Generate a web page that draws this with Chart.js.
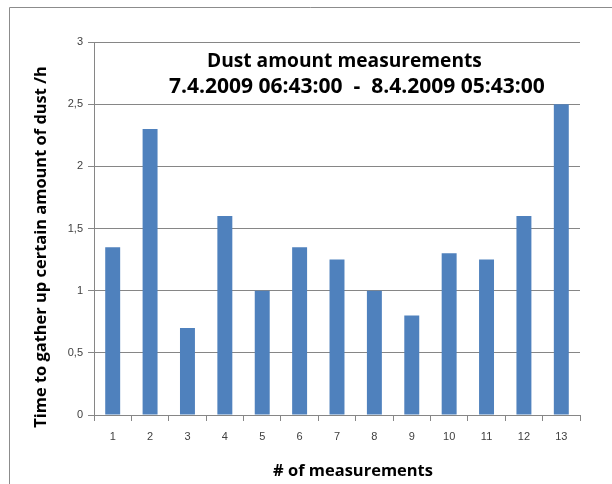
<!DOCTYPE html>
<html>
<head>
<meta charset="utf-8">
<script src="https://cdn.jsdelivr.net/npm/chart.js@4/dist/chart.umd.min.js"></script>
<style>
  html, body { margin: 0; padding: 0; background: #ffffff; }
  canvas { display: block; }
</style>
</head>
<body>
<canvas id="c" width="612" height="484"></canvas>
<script>
const categories = ['1', '2', '3', '4', '5', '6', '7', '8', '9', '10', '11', '12', '13'];
const values = [1.35, 2.3, 0.7, 1.6, 1.0, 1.35, 1.25, 1.0, 0.8, 1.3, 1.25, 1.6, 2.5];
const yTickLabels = ['0', '0,5', '1', '1,5', '2', '2,5', '3'];
const titleLines = ['Dust amount measurements', '7.4.2009 06:43:00  -  8.4.2009 05:43:00'];
const yAxisTitle = 'Time to gather up certain amount of dust /h';
const xAxisTitle = '# of measurements';

const GRAY = '#868686';
const FONT = '"Open Sans", "Liberation Sans", sans-serif';

function fitFont(ctx, text, targetWidth, weight) {
  ctx.font = weight + ' 20px ' + FONT;
  const w = ctx.measureText(text).width;
  const size = 20 * targetWidth / w;
  return weight + ' ' + size.toFixed(2) + 'px ' + FONT;
}

const overlay = {
  id: 'overlay',
  afterDraw(chart) {
    const ctx = chart.ctx;
    ctx.save();
    // outer frame (left and top)
    ctx.strokeStyle = '#8c8c8c';
    ctx.lineWidth = 1;
    ctx.beginPath();
    ctx.moveTo(9.5, 484);
    ctx.lineTo(9.5, 7.5);
    ctx.lineTo(612, 7.5);
    ctx.stroke();

    ctx.fillStyle = '#000000';
    ctx.textBaseline = 'alphabetic';
    // chart title (inside plot area)
    ctx.textAlign = 'left';
    ctx.font = fitFont(ctx, titleLines[0], 275, 'bold');
    ctx.fillText(titleLines[0], 207, 67);
    ctx.font = fitFont(ctx, titleLines[1], 376, 'bold');
    ctx.fillText(titleLines[1], 169, 93);

    // x axis title
    ctx.textAlign = 'center';
    ctx.font = fitFont(ctx, xAxisTitle, 160, 'bold');
    ctx.fillText(xAxisTitle, 353, 476);

    // y axis title
    ctx.translate(46, 247);
    ctx.rotate(-Math.PI / 2);
    ctx.font = fitFont(ctx, yAxisTitle, 362, 'bold');
    ctx.fillText(yAxisTitle, 0, 0);
    ctx.restore();
  }
};

new Chart(document.getElementById('c'), {
  type: 'bar',
  data: {
    labels: categories,
    datasets: [{
      data: values,
      backgroundColor: '#4F81BD',
      borderWidth: 0,
      barPercentage: 0.4,
      categoryPercentage: 1.0
    }]
  },
  options: {
    responsive: false,
    animation: false,
    devicePixelRatio: 1,
    layout: { padding: { left: 0, top: 42, right: 32, bottom: 0 } },
    plugins: {
      legend: { display: false },
      tooltip: { enabled: false },
      title: { display: false }
    },
    scales: {
      x: {
        afterFit(scale) { scale.height = 69; },
        grid: {
          drawOnChartArea: false,
          drawTicks: true,
          tickLength: 6,
          color: GRAY,
          offset: true
        },
        border: { display: true, color: GRAY },
        ticks: {
          color: '#404040',
          padding: 9,
          font: { family: '"Liberation Sans", sans-serif', size: 11 }
        }
      },
      y: {
        min: 0,
        max: 3,
        afterFit(scale) { scale.width = 94; },
        grid: {
          color: GRAY,
          drawTicks: true,
          tickLength: 6
        },
        border: { display: true, color: GRAY },
        ticks: {
          stepSize: 0.5,
          padding: 5,
          color: '#404040',
          font: { family: '"Liberation Sans", sans-serif', size: 11 },
          callback: function (value, index) { return yTickLabels[index]; }
        }
      }
    }
  },
  plugins: [overlay]
});
</script>
</body>
</html>
